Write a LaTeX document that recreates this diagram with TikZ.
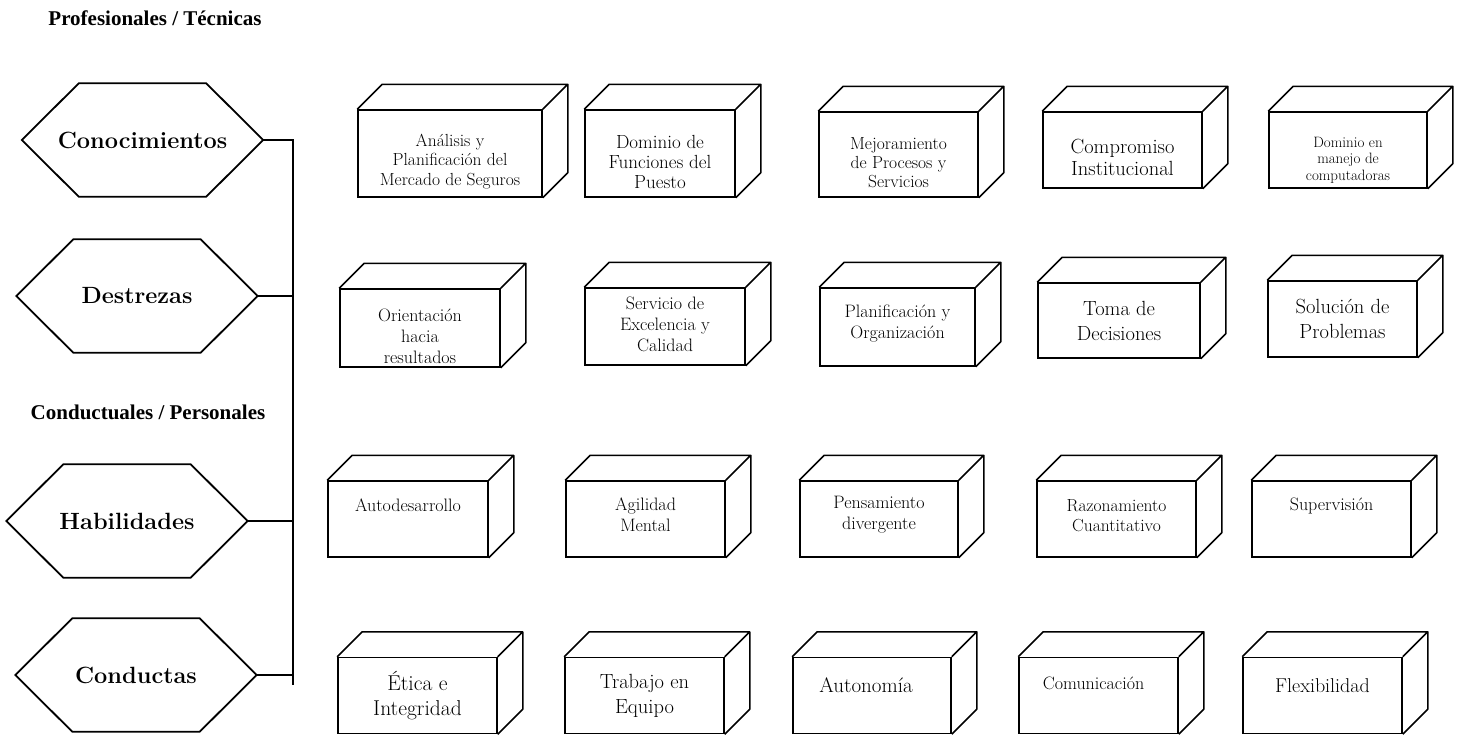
\documentclass[tikz,border=0pt]{standalone}
\usepackage{fontspec}
\newfontfamily\cabfont{Liberation Serif}

\begin{document}
\begin{tikzpicture}[x=1pt, y=-1pt,
  caja/.style={draw, line width=1.5pt, minimum width=159pt, minimum height=76pt, inner sep=0pt,
    append after command={\pgfextra{\begin{pgfinterruptpath}
      \draw[line width=1.5pt, line join=round] (\tikzlastnode.south east) -- ++(\Fondo,\Fondo)
        |- ([shift={(\Fondo,\Fondo)}]\tikzlastnode.north west) -- (\tikzlastnode.north west)
        (\tikzlastnode.north east) -- ++(\Fondo,\Fondo);
    \end{pgfinterruptpath}}}},
  hexa/.style={minimum width=241pt, minimum height=113pt, inner sep=0pt,
    font=\fontsize{23.5}{28}\selectfont\bfseries,
    append after command={\pgfextra{\begin{pgfinterruptpath}
      \draw[line width=1.8pt] (\tikzlastnode.west) -- ([xshift=\Punta]\tikzlastnode.north west)
        -- ([xshift=-\Punta]\tikzlastnode.north east) -- (\tikzlastnode.east)
        -- ([xshift=-\Punta]\tikzlastnode.south east) -- ([xshift=\Punta]\tikzlastnode.south west) -- cycle;
    \end{pgfinterruptpath}}}},
  txt/.style={font=\fontsize{18}{21}\selectfont, align=center, inner sep=0pt},
  txtG/.style={font=\fontsize{20.5}{25}\selectfont, align=center, inner sep=0pt},
  txtC/.style={font=\fontsize{14.5}{16}\selectfont, align=center, inner sep=0pt},
  cabeza/.style={font=\cabfont\fontsize{21}{24}\selectfont\bfseries, inner sep=0pt},
  linea/.style={line width=1.3pt}
]

  \newcommand\Fondo{25pt}
  \newcommand\Punta{57pt}

  \useasboundingbox (0,0) rectangle (1461,734);

  \node[cabeza] (prof) at (155,18) {Profesionales / Técnicas};
  \node[cabeza] (condu) at (148,412) {Conductuales / Personales};

  \node[hexa] (cono) at (142.5,140) {Conocimientos};
  \node[hexa] (dest) at (137,296) {Destrezas};
  \node[hexa] (habi) at (127,521) {Habilidades};
  \node[hexa] (cond) at (136,675) {Conductas};

  \coordinate (bar) at (293,685);
  \draw[linea] (cono.east) -| (bar); %% cono -> barra
  \draw[linea] (dest.east) -- (dest.east -| bar);
  \draw[linea] (habi.east) -- (habi.east -| bar);
  \draw[linea] (cond.east) -- (cond.east -| bar);

  %% profesionales / tecnicas
  \node[caja, minimum width=184pt, minimum height=87pt,
    label={[txt, name=anaT, yshift=-8pt, font=\fontsize{17.5}{19.5}\selectfont]center:{Análisis y\\Planificación del\\Mercado de Seguros}}] (ana) at (450,153.5) {};
  \node[caja, minimum width=150pt, minimum height=87pt,
    label={[txtG, name=domT, yshift=-8pt, font=\fontsize{19}{20}\selectfont]center:{Dominio de\\Funciones del\\Puesto}}] (dom) at (660,153.5) {};
  \node[caja, minimum height=85pt,
    label={[txt, name=mejT, yshift=-8pt, font=\fontsize{17.5}{19}\selectfont]center:{Mejoramiento\\de Procesos y\\Servicios}}] (mej) at (898.5,154.5) {};
  \node[caja,
    label={[txtG, name=compT, yshift=-7pt, font=\fontsize{20.5}{22}\selectfont]center:{Compromiso\\Institucional}}] (comp) at (1122.5,150) {};
  \node[caja, minimum width=158pt,
    label={[txtC, name=manT, yshift=-10pt, font=\fontsize{15}{16.5}\selectfont]center:{Dominio en\\manejo de\\computadoras}}] (man) at (1348,150) {};

  \node[caja, minimum width=160pt, minimum height=78pt,
    label={[txt, name=oriT, yshift=-8pt]center:{Orientación\\hacia\\resultados}}] (ori) at (420,328) {};
  \node[caja, minimum width=160pt, minimum height=77pt,
    label={[txt, name=servT, yshift=2pt]center:{Servicio de\\Excelencia y\\Calidad}}] (serv) at (665,326.5) {};
  \node[caja, minimum width=155pt, minimum height=78pt,
    label={[txt, name=planT, yshift=3pt]center:{Planificación y\\Organización}}] (plan) at (897.5,327) {};
  \node[caja, minimum width=162pt, minimum height=75pt,
    label={[txtG, name=tomaT]center:{Toma de\\Decisiones}}] (toma) at (1119,320.5) {};
  \node[caja, minimum width=149pt,
    label={[txtG, name=soluT]center:{Solución de\\Problemas}}] (solu) at (1342.5,319) {};

  %% conductuales / personales
  \node[caja, minimum width=160pt,
    label={[txt, name=autoT, yshift=14pt]center:{Autodesarrollo}}] (auto) at (408,519) {};
  \node[caja,
    label={[txt, name=agilT, yshift=4pt]center:{Agilidad\\Mental}}] (agil) at (645.5,519) {};
  \node[caja, minimum width=158pt,
    label={[txt, name=pensT, yshift=4pt]center:{Pensamiento\\divergente}}] (pens) at (879,519) {};
  \node[caja,
    label={[txt, name=razoT, yshift=3pt, font=\fontsize{17.5}{20}\selectfont]center:{Razonamiento\\Cuantitativo}}] (razo) at (1116.5,519) {};
  \node[caja,
    label={[txt, name=supeT, yshift=13pt]center:{Supervisión}}] (supe) at (1331.5,519) {};

  \node[caja,
    label={[txtG, name=eticT, font=\fontsize{21.5}{25}\selectfont]center:{Ética e\\Integridad}}] (etic) at (417.5,695.5) {};
  \node[caja,
    label={[txtG, name=trabT]center:{Trabajo en\\Equipo}}] (trab) at (644.5,695.5) {};
  \node[caja, minimum width=158pt,
    label={[txtG, name=autonT, yshift=10pt, xshift=-6pt, font=\fontsize{21}{25}\selectfont]center:{Autonomía}}] (auton) at (872,695.5) {};
  \node[caja,
    label={[txt, name=comuT, yshift=12pt, xshift=-5pt]center:{Comunicación}}] (comu) at (1098.5,695.5) {};
  \node[caja,
    label={[txtG, name=flexT, yshift=10pt, font=\fontsize{20}{24}\selectfont]center:{Flexibilidad}}] (flex) at (1322.5,695.5) {};
\end{tikzpicture}
\end{document}
